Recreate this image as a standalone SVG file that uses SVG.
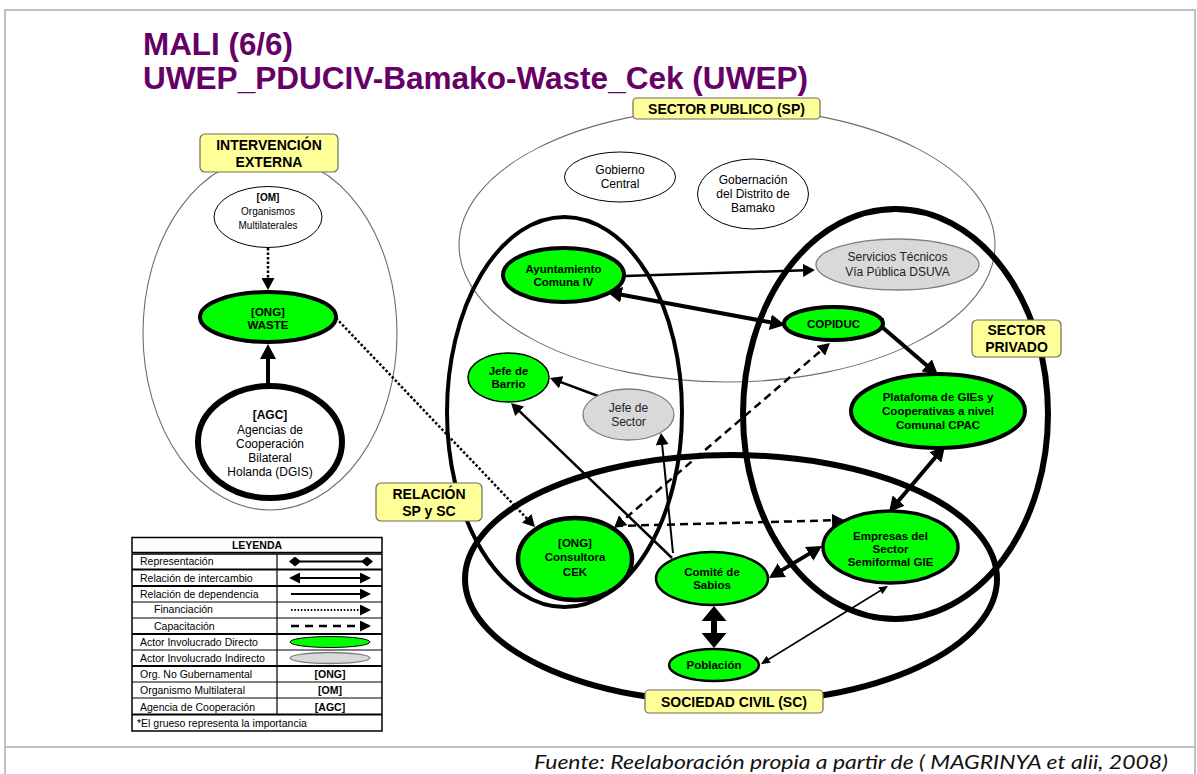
<svg xmlns="http://www.w3.org/2000/svg" width="1197" height="774" viewBox="0 0 1197 774">
<style>
text{font-family:"Liberation Sans",Arial,sans-serif;fill:#000}
.b{font-weight:bold}
.n12{font-size:12px}
.b12{font-size:11.5px;font-weight:bold}
.lab{font-size:14px;font-weight:bold}
.lg{font-size:10.5px}
.region{fill:none}
.thin{stroke:#6e6e6e;stroke-width:1.1}
.green{fill:#00ff00;stroke:#000}
.gray{fill:#d9d9d9;stroke:#7f7f7f;stroke-width:1.3}
.white{fill:#fff;stroke:#000}
.tag{fill:#ffff99;stroke:#6e6e5a;stroke-width:1.2}
.c{fill:none;stroke:#000}
.dot{stroke-dasharray:2.5 2}
.dash{stroke-dasharray:8 5}
</style>
<defs>
<marker id="hL" viewBox="0 0 15 16" refX="11" refY="8" markerWidth="15" markerHeight="16" markerUnits="userSpaceOnUse" orient="auto-start-reverse"><path d="M0,0L15,8L0,16z"/></marker>
<marker id="hM" viewBox="0 0 12 13" refX="9" refY="6.5" markerWidth="12" markerHeight="13" markerUnits="userSpaceOnUse" orient="auto-start-reverse"><path d="M0,0L12,6.5L0,13z"/></marker>
<marker id="hS" viewBox="0 0 9 8" refX="7" refY="4" markerWidth="9" markerHeight="8" markerUnits="userSpaceOnUse" orient="auto-start-reverse"><path d="M0,0L9,4L0,8z"/></marker>
<marker id="hXL" viewBox="0 0 15 25" refX="11" refY="12.5" markerWidth="15" markerHeight="25" markerUnits="userSpaceOnUse" orient="auto-start-reverse"><path d="M0,0L15,12.5L0,25z"/></marker>
<marker id="hLeg" viewBox="0 0 11 11" refX="9" refY="5.5" markerWidth="11" markerHeight="11" markerUnits="userSpaceOnUse" orient="auto-start-reverse"><path d="M0,0L11,5.5L0,11z"/></marker>
<marker id="dia" viewBox="0 0 12 10" refX="6" refY="5" markerWidth="12" markerHeight="10" markerUnits="userSpaceOnUse" orient="auto"><path d="M0,5L6,0L12,5L6,10z"/></marker>
</defs>

<g id="frame" fill="none" stroke="#c0c0c0" stroke-width="2">
<path d="M5,780V10H1195V780"/>
<line x1="5" y1="747" x2="1195" y2="747"/>
</g>

<g id="title" class="b" style="font-size:31px">
<text x="143" y="55" textLength="150" lengthAdjust="spacingAndGlyphs" style="fill:#660066">MALI (6/6)</text>
<text x="143" y="89" textLength="665" lengthAdjust="spacingAndGlyphs" style="fill:#660066">UWEP_PDUCIV-Bamako-Waste_Cek (UWEP)</text>
</g>

<g id="regions" class="region">
<ellipse id="r-intervencion" cx="270" cy="333" rx="127" ry="177" class="thin" fill="none"/>
<ellipse id="r-sp" cx="727" cy="245" rx="268" ry="137" class="thin" fill="none"/>
<ellipse id="r-relacion" cx="564.5" cy="412" rx="117.5" ry="195" fill="none" stroke="#000" stroke-width="4"/>
<ellipse id="r-privado" cx="895.5" cy="414" rx="152.5" ry="205" fill="none" stroke="#000" stroke-width="6"/>
<ellipse id="r-sc" cx="731" cy="579" rx="266" ry="124" fill="none" stroke="#000" stroke-width="6"/>
</g>

<g id="connectors">
<line class="c dot" x1="268" y1="248" x2="268" y2="287" stroke-width="2.5" marker-end="url(#hM)"/>
<line class="c" x1="268" y1="386" x2="268" y2="348" stroke-width="4" marker-end="url(#hL)"/>
<line class="c dot" x1="336" y1="318" x2="532.9" y2="524.8" stroke-width="2.5" marker-end="url(#hM)"/>
<line class="c" x1="625" y1="276" x2="812" y2="270.1" stroke-width="2.5" marker-end="url(#hM)"/>
<line class="c" x1="610.9" y1="292.7" x2="781.1" y2="324.3" stroke-width="4" marker-start="url(#hL)" marker-end="url(#hL)"/>
<line class="c" x1="871" y1="317.6" x2="935" y2="372.4" stroke-width="4" marker-start="url(#hL)" marker-end="url(#hL)"/>
<line class="c" x1="942.4" y1="449" x2="891.6" y2="509" stroke-width="4" marker-start="url(#hL)" marker-end="url(#hL)"/>
<line class="c" x1="818.6" y1="548.1" x2="772.4" y2="575.9" stroke-width="4" marker-start="url(#hL)" marker-end="url(#hL)"/>
<line class="c" x1="714" y1="610" x2="714" y2="644" stroke-width="6" marker-start="url(#hXL)" marker-end="url(#hXL)"/>
<line class="c" x1="886.3" y1="587" x2="762.7" y2="663" stroke-width="1.5" marker-start="url(#hS)" marker-end="url(#hS)"/>
<line class="c" x1="672" y1="558" x2="513.2" y2="405.1" stroke-width="2.5" marker-end="url(#hM)"/>
<line class="c" x1="598" y1="396" x2="552.8" y2="379.1" stroke-width="2.5" marker-end="url(#hM)"/>
<line class="c" x1="673" y1="553" x2="661.3" y2="436" stroke-width="2" marker-end="url(#hM)"/>
<line class="c dash" x1="616.3" y1="526.1" x2="827.7" y2="344.9" stroke-width="2.5" marker-start="url(#hM)" marker-end="url(#hM)"/>
<line class="c dash" x1="615" y1="526" x2="841" y2="520.1" stroke-width="2.5" marker-end="url(#hM)"/>
</g>

<g id="node-om">
<ellipse cx="268" cy="217" rx="54" ry="30.5" class="white" stroke-width="1"/>
<text x="268" y="201" text-anchor="middle" class="b" style="font-size:10px">[OM]</text>
<text x="268" y="215" text-anchor="middle" style="font-size:10px">Organismos</text>
<text x="268" y="229" text-anchor="middle" style="font-size:10px">Multilaterales</text>
</g>
<g id="node-waste">
<ellipse cx="268" cy="317" rx="68" ry="25" class="green" stroke-width="4"/>
<text x="268" y="316" text-anchor="middle" class="b12">[ONG]</text>
<text x="268" y="329" text-anchor="middle" class="b12">WASTE</text>
</g>
<g id="node-agc">
<ellipse cx="270" cy="442" rx="72" ry="56" class="white" stroke-width="6"/>
<text x="270" y="419" text-anchor="middle" class="b n12">[AGC]</text>
<text x="270" y="434" text-anchor="middle" class="n12">Agencias de</text>
<text x="270" y="448" text-anchor="middle" class="n12">Cooperación</text>
<text x="270" y="462" text-anchor="middle" class="n12">Bilateral</text>
<text x="270" y="476" text-anchor="middle" class="n12">Holanda (DGIS)</text>
</g>
<g id="node-gobierno">
<ellipse cx="620" cy="177" rx="55.5" ry="25" class="white" stroke-width="1"/>
<text x="620" y="174" text-anchor="middle" class="n12">Gobierno</text>
<text x="620" y="188" text-anchor="middle" class="n12">Central</text>
</g>
<g id="node-gobernacion">
<ellipse cx="753" cy="194" rx="55.5" ry="35" class="white" stroke-width="1"/>
<text x="753" y="184" text-anchor="middle" class="n12">Gobernación</text>
<text x="753" y="198" text-anchor="middle" class="n12">del Distrito de</text>
<text x="753" y="212" text-anchor="middle" class="n12">Bamako</text>
</g>
<g id="node-ayuntamiento">
<ellipse cx="563.5" cy="275" rx="60.5" ry="27" class="green" stroke-width="4"/>
<text x="563.5" y="273" text-anchor="middle" class="b12">Ayuntamiento</text>
<text x="563.5" y="286" text-anchor="middle" class="b12">Comuna IV</text>
</g>
<g id="node-servicios">
<ellipse cx="897.5" cy="264.5" rx="81.5" ry="25.5" class="gray"/>
<text x="897.5" y="261" text-anchor="middle" class="n12" style="fill:#222">Servicios Técnicos</text>
<text x="897.5" y="276" text-anchor="middle" class="n12" style="fill:#222">Vía Pública DSUVA</text>
</g>
<g id="node-copiduc">
<ellipse cx="833.5" cy="323.5" rx="49.5" ry="16.5" class="green" stroke-width="4"/>
<text x="833.5" y="327.5" text-anchor="middle" class="b12">COPIDUC</text>
</g>
<g id="node-jefe-barrio">
<ellipse cx="508.5" cy="377.5" rx="40.5" ry="24.5" class="green" stroke-width="1.5"/>
<text x="508.5" y="375" text-anchor="middle" class="b12">Jefe de</text>
<text x="508.5" y="388" text-anchor="middle" class="b12">Barrio</text>
</g>
<g id="node-jefe-sector">
<ellipse cx="628.5" cy="414.5" rx="45.5" ry="25.5" class="gray"/>
<text x="628.5" y="412" text-anchor="middle" class="n12" style="fill:#222">Jefe de</text>
<text x="628.5" y="426" text-anchor="middle" class="n12" style="fill:#222">Sector</text>
</g>
<g id="node-plataforma">
<ellipse cx="938" cy="411" rx="87" ry="37" class="green" stroke-width="4"/>
<text x="938" y="401" text-anchor="middle" class="b12">Platafoma de GIEs y</text>
<text x="938" y="415" text-anchor="middle" class="b12">Cooperativas a nivel</text>
<text x="938" y="429" text-anchor="middle" class="b12">Comunal CPAC</text>
</g>
<g id="node-cek">
<ellipse cx="575" cy="559" rx="57" ry="41" class="green" stroke-width="4.5"/>
<text x="575" y="547" text-anchor="middle" class="b12">[ONG]</text>
<text x="575" y="561" text-anchor="middle" class="b12">Consultora</text>
<text x="575" y="576" text-anchor="middle" class="b12">CEK</text>
</g>
<g id="node-empresas">
<ellipse cx="890.5" cy="547" rx="67.5" ry="36" class="green" stroke-width="3.5"/>
<text x="890.5" y="539.5" text-anchor="middle" class="b12">Empresas del</text>
<text x="890.5" y="552.5" text-anchor="middle" class="b12">Sector</text>
<text x="890.5" y="566" text-anchor="middle" class="b12">Semiformal GIE</text>
</g>
<g id="node-comite">
<ellipse cx="712" cy="578.5" rx="56" ry="26.5" class="green" stroke-width="2.5"/>
<text x="712" y="576" text-anchor="middle" class="b12">Comité de</text>
<text x="712" y="589" text-anchor="middle" class="b12">Sabios</text>
</g>
<g id="node-poblacion">
<ellipse cx="714" cy="665" rx="45" ry="16" class="green" stroke-width="2.5"/>
<text x="714" y="669" text-anchor="middle" class="b12">Población</text>
</g>

<g id="labels">
<rect x="200" y="134" width="138" height="38" rx="5" class="tag"/>
<text x="269" y="150" text-anchor="middle" class="lab">INTERVENCIÓN</text>
<text x="269" y="167" text-anchor="middle" class="lab">EXTERNA</text>
<rect x="633" y="98" width="187" height="21" rx="4" class="tag"/>
<text x="726.5" y="113.5" text-anchor="middle" class="lab">SECTOR PUBLICO (SP)</text>
<rect x="972" y="320" width="89" height="37" rx="5" class="tag"/>
<text x="1016.5" y="335" text-anchor="middle" class="lab">SECTOR</text>
<text x="1016.5" y="352" text-anchor="middle" class="lab">PRIVADO</text>
<rect x="376" y="483" width="106" height="38" rx="5" class="tag"/>
<text x="429" y="499" text-anchor="middle" class="lab">RELACIÓN</text>
<text x="429" y="516" text-anchor="middle" class="lab">SP y SC</text>
<rect x="645" y="690" width="178" height="23" rx="4" class="tag"/>
<text x="734" y="706.5" text-anchor="middle" class="lab">SOCIEDAD CIVIL (SC)</text>
</g>

<g id="legend">
<rect x="132" y="537.5" width="250" height="15" fill="#fff" stroke="#000" stroke-width="1.5"/>
<text x="257" y="549" text-anchor="middle" class="b" style="font-size:10.5px">LEYENDA</text>
<rect x="132" y="554" width="250" height="177" fill="#fff" stroke="#000" stroke-width="1.5"/>
<g stroke="#000" fill="none">
<line x1="132" y1="569.5" x2="382" y2="569.5" stroke-width="2"/>
<line x1="132" y1="586" x2="382" y2="586" stroke-width="2"/>
<line x1="132" y1="602" x2="382" y2="602" stroke-width="1"/>
<line x1="132" y1="618" x2="382" y2="618" stroke-width="1"/>
<line x1="132" y1="634" x2="382" y2="634" stroke-width="2"/>
<line x1="132" y1="650" x2="382" y2="650" stroke-width="1"/>
<line x1="132" y1="666" x2="382" y2="666" stroke-width="2"/>
<line x1="132" y1="682" x2="382" y2="682" stroke-width="1"/>
<line x1="132" y1="698" x2="382" y2="698" stroke-width="1"/>
<line x1="132" y1="714.5" x2="382" y2="714.5" stroke-width="2"/>
<line x1="277" y1="554" x2="277" y2="714.5" stroke-width="1.2"/>
</g>
<text x="140" y="565" class="lg">Representación</text>
<text x="140" y="582" class="lg">Relación de intercambio</text>
<text x="140" y="598" class="lg">Relación de dependencia</text>
<text x="154" y="613" class="lg">Financiación</text>
<text x="154" y="630" class="lg">Capacitación</text>
<text x="140" y="646" class="lg">Actor Involucrado Directo</text>
<text x="140" y="662" class="lg">Actor Involucrado Indirecto</text>
<text x="140" y="678" class="lg">Org. No Gubernamental</text>
<text x="140" y="694" class="lg">Organismo Multilateral</text>
<text x="140" y="711" class="lg">Agencia de Cooperación</text>
<text x="137" y="727" class="lg">*El grueso representa la importancia</text>
<line class="c" x1="295" y1="561.5" x2="367" y2="561.5" stroke-width="2" marker-start="url(#dia)" marker-end="url(#dia)"/>
<line class="c" x1="291" y1="578" x2="369" y2="578" stroke-width="2" marker-start="url(#hLeg)" marker-end="url(#hLeg)"/>
<line class="c" x1="291" y1="594" x2="369" y2="594" stroke-width="2" marker-end="url(#hLeg)"/>
<line class="c" x1="291" y1="610" x2="369" y2="610" stroke-width="2" stroke-dasharray="1.5 1.8" marker-end="url(#hLeg)"/>
<line class="c" x1="291" y1="626" x2="369" y2="626" stroke-width="2.5" stroke-dasharray="8 6" marker-end="url(#hLeg)"/>
<ellipse cx="330" cy="642" rx="40" ry="5.5" class="green" stroke-width="1"/>
<ellipse cx="330" cy="658" rx="40" ry="5.5" class="gray" stroke-width="1"/>
<text x="330" y="678" text-anchor="middle" class="b lg">[ONG]</text>
<text x="330" y="694" text-anchor="middle" class="b lg">[OM]</text>
<text x="330" y="711" text-anchor="middle" class="b lg">[AGC]</text>
</g>

<text id="footer" x="534" y="769" textLength="634" lengthAdjust="spacingAndGlyphs" style="font-family:Lato,'Open Sans',sans-serif;font-style:italic;font-size:20px;fill:#111">Fuente: Reelaboración propia a partir de ( MAGRINYA et alii, 2008)</text>
</svg>
